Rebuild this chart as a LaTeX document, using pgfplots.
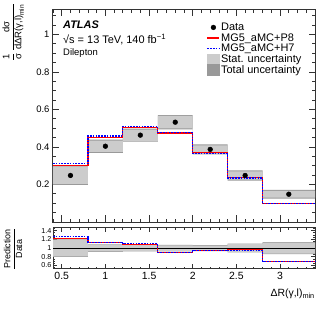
\documentclass[border=0pt]{standalone}
\usepackage{fontspec}
\setmainfont{Liberation Sans}
\usepackage{amsmath}
\usepackage{pgfplots}
\pgfplotsset{compat=1.18}
\definecolor{statc}{gray}{0.80}
\definecolor{totc}{gray}{0.60}
\definecolor{pyeight}{RGB}{255,0,0}
\definecolor{hwseven}{RGB}{0,0,255}
\begin{document}
\begin{tikzpicture}
\pgfplotsset{
  every axis/.append style={
    scale only axis, width=262bp, xmin=0.4, xmax=3.4,
    /pgf/number format/assume math mode=true,
    tick align=inside, xtick pos=both, ytick pos=both,
    axis line style={line width=1bp, black!80},
    tick style={line width=0.8bp, black!80},
    clip=false,
  }
}
% ---------------- upper panel ----------------
\begin{axis}[name=upper, at={(0,0)}, anchor=south west, height=212bp,
  ymin=0, ymax=1.13,
  major tick length=6.5bp, minor tick length=3.3bp,
  xtick={0.5,1,1.5,2,2.5,3}, xticklabels={},
  minor xtick={0.4,0.5,...,3.45},
  ytick={0.2,0.4,0.6,0.8,1}, yticklabels={0.2,0.4,0.6,0.8,1},
  minor ytick={0.05,0.1,...,1.12},
  yticklabel style={font=\fontsize{9.5}{10}\selectfont},
  legend style={at={(0.575,0.955)}, anchor=north west, draw=none, fill=none,
    font=\fontsize{11}{12}\selectfont, row sep=-1pt,
    nodes={inner sep=1.2pt}},
  legend cell align=left,
]
% total uncertainty
\addplot[fill=totc, draw=none, forget plot] coordinates {
 (0.4,0.302)(0.8,0.302)(0.8,0.439)(1.2,0.439)(1.2,0.498)(1.6,0.498)(1.6,0.570)(2.0,0.570)
 (2.0,0.414)(2.4,0.414)(2.4,0.275)(2.8,0.275)(2.8,0.1715)(3.4,0.1715)
 (3.4,0.1245)(2.8,0.1245)(2.8,0.221)(2.4,0.221)(2.4,0.360)(2.0,0.360)(2.0,0.494)(1.6,0.494)
 (1.6,0.428)(1.2,0.428)(1.2,0.369)(0.8,0.369)(0.8,0.198)(0.4,0.198)} -- cycle;
% stat uncertainty
\addplot[fill=statc, draw=none, forget plot] coordinates {
 (0.4,0.297)(0.8,0.297)(0.8,0.434)(1.2,0.434)(1.2,0.493)(1.6,0.493)(1.6,0.565)(2.0,0.565)
 (2.0,0.409)(2.4,0.409)(2.4,0.270)(2.8,0.270)(2.8,0.1665)(3.4,0.1665)
 (3.4,0.1295)(2.8,0.1295)(2.8,0.226)(2.4,0.226)(2.4,0.365)(2.0,0.365)(2.0,0.499)(1.6,0.499)
 (1.6,0.433)(1.2,0.433)(1.2,0.374)(0.8,0.374)(0.8,0.203)(0.4,0.203)} -- cycle;
% MG5_aMC+P8
\addplot[draw=pyeight, line width=1.2bp, const plot, forget plot] coordinates {
 (0.4,0.303)(0.8,0.452)(1.2,0.505)(1.6,0.474)(2.0,0.369)(2.4,0.239)(2.8,0.099)(3.4,0.099)};
% MG5_aMC+H7
\addplot[draw=hwseven, line width=1.2bp, dash pattern=on 1.6bp off 1.2bp, const plot, forget plot] coordinates {
 (0.4,0.312)(0.8,0.458)(1.2,0.511)(1.6,0.475)(2.0,0.364)(2.4,0.234)(2.8,0.097)(3.4,0.097)};
% Data
\addplot[only marks, mark=*, mark size=2.4bp, black, forget plot] coordinates {
 (0.6,0.248)(1.0,0.404)(1.4,0.463)(1.8,0.532)(2.2,0.387)(2.6,0.248)(3.1,0.148)};
% legend
\addlegendimage{legend image code/.code={\fill[black] (0.21cm,0cm) circle (2.4bp);}}
\addlegendentry{Data}
\addlegendimage{legend image code/.code={\draw[draw=pyeight, line width=1.2bp] (0cm,0cm) -- (0.42cm,0cm);}}
\addlegendentry{MG5\_aMC+P8}
\addlegendimage{legend image code/.code={\draw[draw=hwseven, line width=1.2bp, dash pattern=on 1.6bp off 1.2bp] (0cm,0cm) -- (0.42cm,0cm);}}
\addlegendentry{MG5\_aMC+H7}
\addlegendimage{legend image code/.code={\fill[statc] (0cm,-0.19cm) rectangle (0.42cm,0.19cm);}}
\addlegendentry{Stat. uncertainty}
\addlegendimage{legend image code/.code={\fill[totc] (0cm,-0.19cm) rectangle (0.42cm,0.19cm);}}
\addlegendentry{Total uncertainty}
\end{axis}
% ---------------- ratio panel ----------------
\begin{axis}[name=lower, at={(0,-6bp)}, anchor=north west, height=41bp,
  ymin=0.52, ymax=1.46,
  major tick length=4.5bp, minor tick length=2.3bp,
  xtick={0.5,1,1.5,2,2.5,3}, xticklabels={0.5,1,1.5,2,2.5,3},
  minor xtick={0.4,0.5,...,3.45},
  ytick={0.6,0.8,1,1.2,1.4}, yticklabels={0.6,0.8,1,1.2,1.4},
  minor ytick={0.55,0.6,...,1.45},
  yticklabel style={font=\fontsize{7.2}{7.5}\selectfont, inner sep=1.5bp},
  xticklabel style={font=\fontsize{10.5}{11}\selectfont},
]
\addplot[fill=totc, draw=none] coordinates {
 (0.4,1.200)(0.8,1.200)(0.8,1.086)(1.2,1.086)(1.2,1.077)(1.6,1.077)(1.6,1.074)(2.0,1.074)
 (2.0,1.069)(2.4,1.069)(2.4,1.101)(2.8,1.101)(2.8,1.137)(3.4,1.137)
 (3.4,0.863)(2.8,0.863)(2.8,0.899)(2.4,0.899)(2.4,0.931)(2.0,0.931)(2.0,0.926)(1.6,0.926)
 (1.6,0.923)(1.2,0.923)(1.2,0.914)(0.8,0.914)(0.8,0.800)(0.4,0.800)} -- cycle;
\addplot[fill=statc, draw=none] coordinates {
 (0.4,1.188)(0.8,1.188)(0.8,1.074)(1.2,1.074)(1.2,1.065)(1.6,1.065)(1.6,1.062)(2.0,1.062)
 (2.0,1.057)(2.4,1.057)(2.4,1.089)(2.8,1.089)(2.8,1.125)(3.4,1.125)
 (3.4,0.875)(2.8,0.875)(2.8,0.911)(2.4,0.911)(2.4,0.943)(2.0,0.943)(2.0,0.938)(1.6,0.938)
 (1.6,0.935)(1.2,0.935)(1.2,0.926)(0.8,0.926)(0.8,0.812)(0.4,0.812)} -- cycle;
\addplot[black, line width=0.9bp] coordinates {(0.4,1)(3.4,1)};
\addplot[draw=pyeight, line width=1.2bp, const plot] coordinates {
 (0.4,1.22)(0.8,1.12)(1.2,1.09)(1.6,0.89)(2.0,0.95)(2.4,0.96)(2.8,0.70)(3.4,0.70)};
\addplot[draw=hwseven, line width=1.2bp, dash pattern=on 1.6bp off 1.2bp, const plot] coordinates {
 (0.4,1.26)(0.8,1.135)(1.2,1.10)(1.6,0.89)(2.0,0.94)(2.4,0.945)(2.8,0.69)(3.4,0.69)};
\end{axis}
% ---------------- texts ----------------
\node[anchor=west, inner sep=0, font=\fontsize{11}{12}\selectfont\bfseries\itshape] at (10bp,197bp) {ATLAS};
\node[anchor=west, inner sep=0, font=\fontsize{11}{12}\selectfont] at (10bp,182bp) {√s = 13 TeV, 140 fb\textsuperscript{−1}};
\node[anchor=west, inner sep=0, font=\fontsize{9.5}{10}\selectfont] at (10bp,169bp) {Dilepton};
\node[rotate=90, anchor=south east, inner sep=0, font=\fontsize{9.5}{10}\selectfont] at (-29bp,219bp)
  {$\dfrac{\text{1}}{\text{σ}}\,\dfrac{\text{dσ}}{\text{dΔR(γ,l)}_{\text{min}}}$};
\node[rotate=90, anchor=center, inner sep=0, font=\fontsize{9}{10}\selectfont] at (-40bp,-27bp)
  {$\dfrac{\text{Prediction}}{\text{Data}}$};
\node[anchor=north east, inner sep=0, font=\fontsize{10.5}{11}\selectfont] at (262bp,-67bp)
  {ΔR(γ,l)$_{\text{min}}$};
\pgfresetboundingbox
\path (-53bp,-97bp) rectangle (279bp,222bp);
\end{tikzpicture}
\end{document}
